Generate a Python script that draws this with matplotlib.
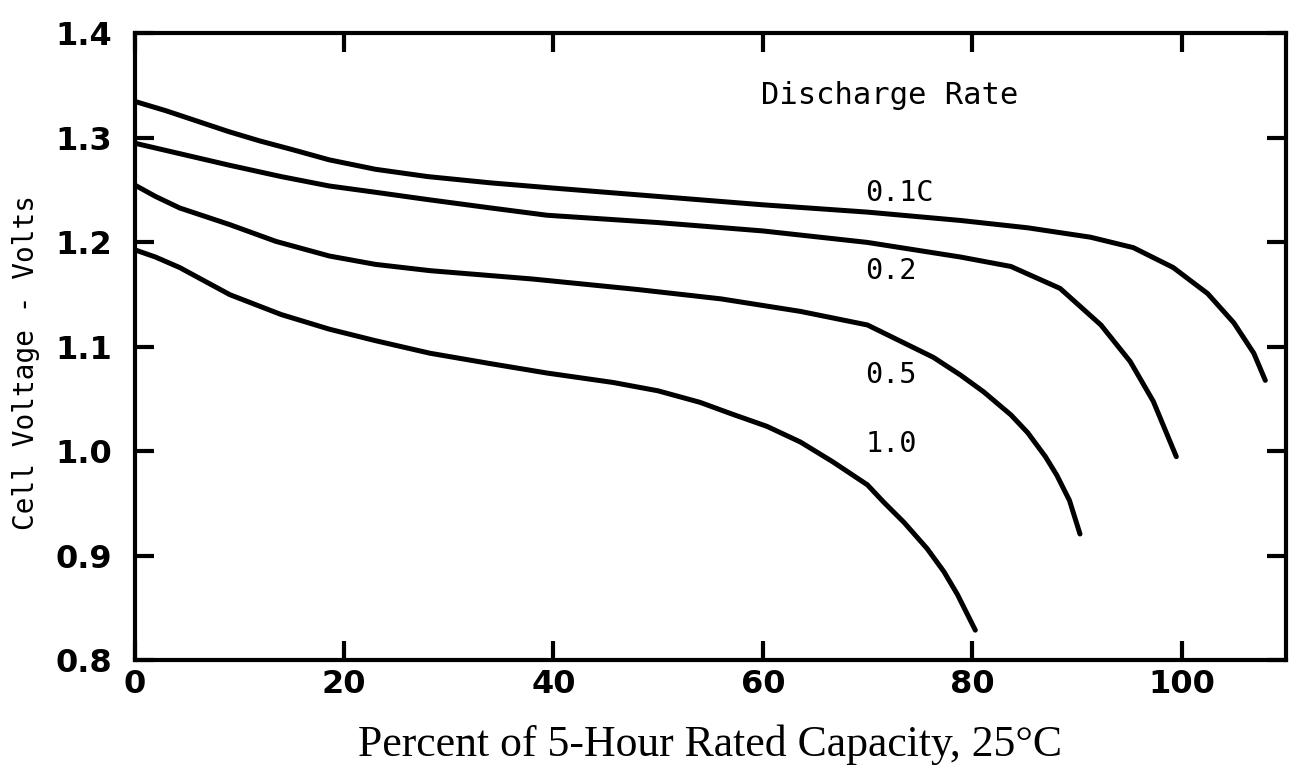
import matplotlib
matplotlib.use('Agg')
import matplotlib.pyplot as plt

# discharge curves (percent capacity, cell volts)
x_01 = [0, 3, 6, 9, 12, 15, 18.6, 23, 28, 34, 40, 50, 60, 70, 78.9, 85.3, 91.3, 95.4,
        99.2, 102.5, 105, 106.9, 108]
v_01 = [1.335, 1.326, 1.316, 1.306, 1.297, 1.289, 1.279, 1.270, 1.263, 1.257, 1.252, 1.244,
        1.236, 1.229, 1.221, 1.214, 1.205, 1.195, 1.176, 1.151, 1.123, 1.094, 1.068]

x_02 = [0, 3, 6, 9, 14, 18.6, 23, 28, 34, 39.4, 50, 60, 70, 78.9, 83.7, 88.4, 92.3, 95.1,
        97.3, 99.5]
v_02 = [1.295, 1.288, 1.281, 1.274, 1.263, 1.254, 1.248, 1.241, 1.233, 1.226, 1.219, 1.211,
        1.200, 1.186, 1.177, 1.156, 1.121, 1.086, 1.048, 0.995]

x_05 = [0, 2, 4.3, 9.1, 13.5, 18.6, 23, 28.2, 38, 48, 56, 63.6, 70, 76.3, 78.9, 81.1, 83.7,
        85.3, 87.0, 88.1, 89.3, 90.3]
v_05 = [1.255, 1.244, 1.233, 1.217, 1.201, 1.187, 1.179, 1.173, 1.165, 1.155, 1.146, 1.134,
        1.121, 1.090, 1.073, 1.057, 1.035, 1.018, 0.995, 0.977, 0.953, 0.921]

x_10 = [0, 2, 4.3, 9.1, 14, 18.6, 23, 28.2, 34, 39.4, 45.7, 50, 54, 57, 60.4, 63.6, 66.7,
        70, 71.5, 73.5, 75.7, 77.3, 78.6, 80.3]
v_10 = [1.193, 1.186, 1.176, 1.150, 1.131, 1.117, 1.106, 1.094, 1.084, 1.075, 1.066, 1.058,
        1.047, 1.036, 1.024, 1.009, 0.990, 0.968, 0.952, 0.932, 0.907, 0.885, 0.863, 0.829]

rate_labels = ['0.1C', '0.2', '0.5', '1.0']
label_x = [69.8, 69.8, 69.8, 69.8]
label_y = [1.247, 1.173, 1.073, 1.007]

x_ticks = [0, 20, 40, 60, 80, 100]
y_ticks = [0.8, 0.9, 1.0, 1.1, 1.2, 1.3, 1.4]

mono = 'DejaVu Sans Mono'

fig = plt.figure(figsize=(12.94, 7.77), dpi=100, facecolor='white')
ax = fig.add_axes([0.104, 0.150, 0.890, 0.807])

for xs, vs in [(x_01, v_01), (x_02, v_02), (x_05, v_05), (x_10, v_10)]:
    ax.plot(xs, vs, color='black', lw=3.6, solid_capstyle='round', solid_joinstyle='round')

for lab, lx, ly in zip(rate_labels, label_x, label_y):
    ax.text(lx, ly, lab, fontsize=20.5, family=mono, va='center', ha='left')

ax.text(59.8, 1.341, 'Discharge Rate', fontsize=22, family=mono, va='center', ha='left')

ax.set_xlim(0, 110)
ax.set_ylim(0.8, 1.4)
ax.set_xticks(x_ticks)
ax.set_yticks(y_ticks)
ax.set_xticklabels([str(t) for t in x_ticks])
ax.set_yticklabels([f'{t:.1f}' for t in y_ticks])

ax.tick_params(axis='both', direction='in', length=14, width=3, top=True, right=True,
               labelsize=23, colors='black')
ax.tick_params(axis='x', pad=6)
ax.tick_params(axis='y', pad=16)
for lbl in ax.get_xticklabels() + ax.get_yticklabels():
    lbl.set_fontweight('bold')

for sp in ax.spines.values():
    sp.set_linewidth(3)

ax.set_ylabel('Cell Voltage - Volts', fontsize=20, family=mono)
ax.yaxis.set_label_coords(-0.082, 0.475)
fig.text(0.549, 0.041, 'Percent of 5-Hour Rated Capacity, 25°C', fontsize=31.5,
         family='Liberation Serif', ha='center', va='center')

fig.savefig('out.png', dpi=100)
